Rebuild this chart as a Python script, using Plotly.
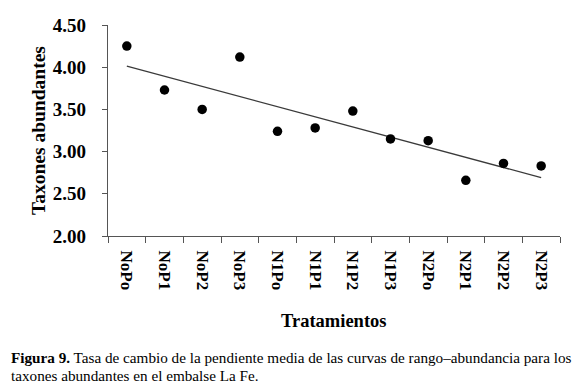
import numpy as np
import plotly.graph_objects as go

categories = ["NoPo", "NoP1", "NoP2", "NoP3", "N1Po", "N1P1",
              "N1P2", "N1P3", "N2Po", "N2P1", "N2P2", "N2P3"]
values = [4.25, 3.73, 3.50, 4.12, 3.24, 3.28, 3.48, 3.15, 3.13, 2.66, 2.86, 2.83]
y_ticks = [2.00, 2.50, 3.00, 3.50, 4.00, 4.50]

# linear trend fitted to the data
idx = np.arange(len(values))
slope, intercept = np.polyfit(idx, values, 1)
trend = intercept + slope * idx

FONT = "Liberation Serif"
OFF = 8  # default page body margin
W, H = 580 - OFF, 391 - OFF
L, R, T, B = 108 - OFF, 20, 25 - OFF, 155
pw = W - L - R
ph = H - T - B

fig = go.Figure()
fig.add_trace(go.Scatter(x=categories, y=trend, mode="lines",
                         line=dict(color="#3a3a3a", width=1.3),
                         hoverinfo="skip", showlegend=False))
fig.add_trace(go.Scatter(x=categories, y=values, mode="markers",
                         marker=dict(color="black", size=9.5),
                         showlegend=False))

fig.update_layout(
    width=W, height=H,
    margin=dict(l=L, r=R, t=T, b=B, autoexpand=False),
    paper_bgcolor="white", plot_bgcolor="white",
    font=dict(family=FONT, color="black"),
    showlegend=False,
    xaxis=dict(
        type="category", range=[-0.5, 11.5], automargin=False,
        showline=True, linecolor="#555", linewidth=1.2,
        ticks="outside", tickson="boundaries", ticklen=6, tickcolor="#555", tickwidth=1.2,
        tickangle=90, showgrid=False, zeroline=False, ticklabelstandoff=10,
        tickfont=dict(family=FONT, size=17, color="black", weight="bold"),
    ),
    yaxis=dict(
        range=[2.0, 4.5], tickvals=y_ticks, tickformat=".2f", automargin=False,
        showline=True, linecolor="#555", linewidth=1.2,
        ticks="outside", ticklen=5, tickcolor="#555", tickwidth=1.2,
        showgrid=False, zeroline=False, ticklabelstandoff=12,
        tickfont=dict(family=FONT, size=19, color="black", weight="bold"),
    ),
)

def px_x(px):
    return (px - OFF - L) / pw

def px_y(py):
    return 1 - (py - OFF - T) / ph

annotations = [
    dict(text="<b>Taxones abundantes</b>", x=px_x(38), y=px_y(131), textangle=-90,
         font=dict(family=FONT, size=19.5, color="black")),
    dict(text="<b>Tratamientos</b>", x=px_x(334), y=px_y(321),
         font=dict(family=FONT, size=18.5, color="black")),
    dict(text="<b>Figura 9.</b> Tasa de cambio de la pendiente media de las curvas de rango\u2013abundancia para los",
         x=px_x(9), y=px_y(357), xanchor="left",
         font=dict(family=FONT, size=15.2, color="black")),
    dict(text="taxones abundantes en el embalse La Fe.",
         x=px_x(9), y=px_y(375), xanchor="left",
         font=dict(family=FONT, size=15.2, color="black")),
]
for a in annotations:
    a.update(xref="paper", yref="paper", showarrow=False)
    a.setdefault("xanchor", "center")
    a["yanchor"] = "middle"
fig.update_layout(annotations=annotations)

fig.write_html("out.html")
